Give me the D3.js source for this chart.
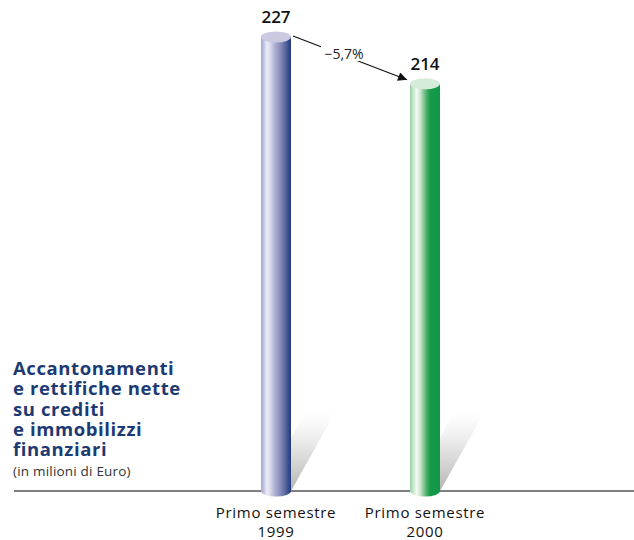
<!DOCTYPE html>
<html><head><meta charset="utf-8">
<script src="https://cdn.jsdelivr.net/npm/d3@7"></script>
<style>body{margin:0;background:#fff;}svg{display:block;} text{font-variant-ligatures:none;}</style>
</head><body>
<svg id="c" width="634" height="540"></svg>
<script>
const categories = ["1999", "2000"];
const catLabels = ["Primo semestre", "Primo semestre"];
const values = [227, 214];
const changeLabel = "\u22125,7%";
const titleLines = ["Accantonamenti", "e rettifiche nette", "su crediti", "e immobilizzi", "finanziari"];
const subtitle = "(in milioni di Euro)";

const svg = d3.select("#c");
const font = "'Open Sans', Lato, sans-serif";
const base = 491;
const barW = 30, ry = 5.5;

const x = d3.scalePoint().domain(categories).range([276, 425]);
const y = d3.scaleLinear().domain([101, 227]).range([base, 37]);

const defs = svg.append("defs");
const grads = [
  {id:"gBlue", stops:[[0,"#a4a6d0"],[0.1,"#c4c6e2"],[0.2,"#eeeef8"],[0.32,"#d6d6ea"],[0.45,"#b0b2d2"],[0.6,"#9296c0"],[0.75,"#6a76aa"],[0.9,"#3c5090"],[1,"#22397a"]]},
  {id:"gGreen", stops:[[0,"#98d0a2"],[0.1,"#c4e6ca"],[0.22,"#f4faf4"],[0.34,"#cde8d2"],[0.45,"#88c896"],[0.58,"#3daa5e"],[0.68,"#16994a"],[1,"#109847"]]}
];
grads.forEach(g => {
  const lg = defs.append("linearGradient").attr("id", g.id).attr("x1","0").attr("x2","1").attr("y1","0").attr("y2","0");
  g.stops.forEach(s => lg.append("stop").attr("offset", s[0]).attr("stop-color", s[1]));
});
const sg = defs.append("linearGradient").attr("id","gShadow").attr("x1","0").attr("x2","0").attr("y1","1").attr("y2","0");
sg.append("stop").attr("offset",0).attr("stop-color","#999").attr("stop-opacity",0.75);
sg.append("stop").attr("offset",0.5).attr("stop-color","#bbb").attr("stop-opacity",0.45);
sg.append("stop").attr("offset",1).attr("stop-color","#ddd").attr("stop-opacity",0);

const topColors = ["#c9c9e2", "#d6ecda"];
const fills = ["url(#gBlue)", "url(#gGreen)"];

// baseline
svg.append("line").attr("x1",14).attr("x2",634).attr("y1",base).attr("y2",base)
  .attr("stroke","#555").attr("stroke-width",1.5);

// shadows
svg.selectAll(".shadow").data(values).join("path").attr("class","shadow")
  .attr("d", (d,i) => {
    const cx = x(categories[i]), x0 = cx - barW/2, x1 = cx + barW/2;
    return `M${x0},${base} L${x1},${base} L${x1+45},${base-80} L${x0+45},${base-80} Z`;
  })
  .attr("fill","url(#gShadow)");

// bars (cylinders)
const bars = svg.selectAll(".bar").data(values).join("g").attr("class","bar");
bars.append("path")
  .attr("d", (d,i) => {
    const cx = x(categories[i]), x0 = cx - barW/2, x1 = cx + barW/2, t = y(d);
    return `M${x0},${t} L${x1},${t} L${x1},${base} A${barW/2},${ry} 0 0 1 ${x0},${base} Z`;
  })
  .attr("fill", (d,i) => fills[i]);
bars.append("ellipse")
  .attr("cx", (d,i) => x(categories[i])).attr("cy", d => y(d))
  .attr("rx", barW/2).attr("ry", ry)
  .attr("fill", (d,i) => topColors[i]);

// value labels
svg.selectAll(".val").data(values).join("text").attr("class","val")
  .attr("x", (d,i) => x(categories[i])).attr("y", d => y(d) - 14)
  .attr("text-anchor","middle").attr("font-family",font).attr("font-size",17).attr("font-weight",600)
  .attr("fill","#111").text(d => d);

// category labels
svg.selectAll(".cat").data(categories).join("text").attr("class","cat")
  .attr("x", d => x(d)).attr("y", 518)
  .attr("text-anchor","middle").attr("font-family",font).attr("font-size",15).attr("letter-spacing",0.7)
  .attr("fill","#111").text((d,i) => catLabels[i]);
svg.selectAll(".yr").data(categories).join("text").attr("class","yr")
  .attr("x", d => x(d)).attr("y", 537)
  .attr("text-anchor","middle").attr("font-family",font).attr("font-size",15).attr("letter-spacing",0.7)
  .attr("fill","#111").text(d => d);

// arrow
defs.append("marker").attr("id","arr").attr("viewBox","0 0 10 10").attr("refX",10).attr("refY",5)
  .attr("markerWidth",11).attr("markerHeight",9).attr("markerUnits","userSpaceOnUse").attr("orient","auto")
  .append("path").attr("d","M0,0 L10,5 L0,10 Z").attr("fill","#111");
const ax0 = x(categories[0]) + 17, ay0 = y(values[0]) - 1;
const ax1 = x(categories[1]) - 18, ay1 = y(values[1]) - 4;
svg.append("line").attr("x1",ax0).attr("y1",ay0).attr("x2",ax1).attr("y2",ay1)
  .attr("stroke","#111").attr("stroke-width",1.1).attr("marker-end","url(#arr)");
const mx = 344, my = 55;
svg.append("rect").attr("x",mx-23).attr("y",my-10).attr("width",46).attr("height",16).attr("fill","#fff");
svg.append("text").attr("x",mx).attr("y",my+4).attr("text-anchor","middle")
  .attr("font-family",font).attr("font-size",14).attr("fill","#222").text(changeLabel);

// title
titleLines.forEach((l,i) => svg.append("text").attr("class","title")
  .attr("x",13).attr("y",375 + i*20.3).attr("font-family",font).attr("font-weight",700)
  .attr("font-size",18.5).attr("letter-spacing",0.6).attr("fill","#1d3a72").text(l));
svg.append("text").attr("x",13).attr("y",476).attr("font-family",font).attr("font-size",13.5)
  .attr("letter-spacing",0.2).attr("fill","#333").text(subtitle);
</script>
</body></html>
